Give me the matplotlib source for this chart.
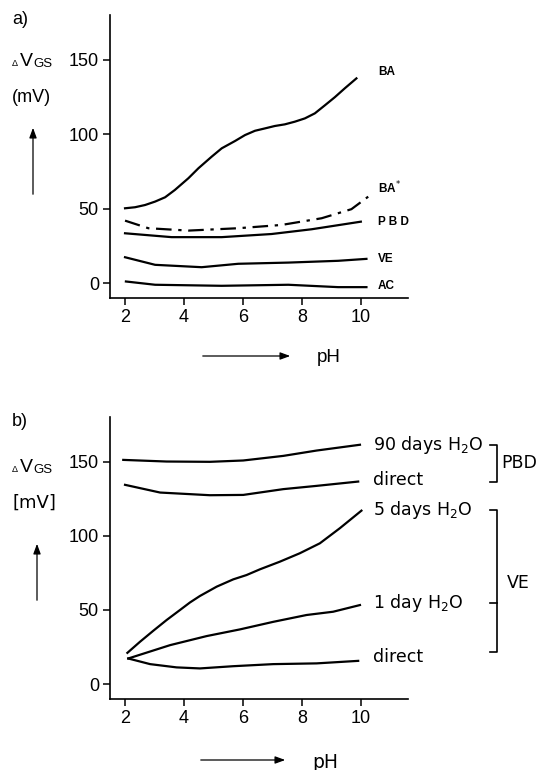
import matplotlib
matplotlib.use("Agg")
import matplotlib.pyplot as plt

# ---- data ----
# panel a)
ph_ba = [2.0, 2.34, 2.68, 3.02, 3.36, 3.69, 4.15, 4.49, 4.94, 5.28, 5.73, 6.07,
         6.41, 6.75, 7.08, 7.42, 7.76, 8.1, 8.44, 8.78, 9.12, 9.46, 9.85]
ba = [50.3, 51.0, 52.5, 54.8, 57.7, 62.6, 70.5, 77.2, 85.0, 90.6, 95.5, 99.5,
      102.4, 104.0, 105.6, 106.7, 108.5, 110.7, 114.1, 119.5, 125.0, 131.0, 137.6]
ph_bas = [2.0, 2.79, 4.15, 5.84, 7.31, 8.67, 9.68, 10.25]
ba_star = [42.0, 36.9, 35.3, 36.9, 39.1, 43.6, 49.7, 58.1]
ph_pbd = [2.0, 3.58, 5.28, 6.97, 8.33, 10.0]
pbd = [33.5, 30.9, 30.9, 33.0, 36.2, 41.3]
ph_ve = [2.0, 3.02, 4.6, 5.84, 7.54, 9.23, 10.19]
ve = [17.4, 12.3, 10.7, 13.0, 13.8, 15.0, 16.3]
ph_ac = [2.03, 3.02, 5.28, 7.54, 9.23, 10.19]
ac = [1.1, -1.1, -1.8, -1.1, -2.7, -2.7]

# panel b)
ph_90 = [1.94, 3.41, 4.88, 6.01, 7.37, 8.5, 9.97]
pbd_90 = [151.1, 150.0, 149.8, 150.7, 153.8, 157.4, 161.3]
ph_pdir = [2.0, 3.19, 4.88, 6.01, 7.37, 8.5, 9.91]
pbd_dir = [134.3, 129.1, 127.3, 127.5, 131.4, 133.6, 136.5]
ph_5 = [2.08, 2.51, 2.96, 3.41, 3.86, 4.2, 4.54, 5.11, 5.67, 6.12, 6.58, 7.25,
        7.93, 8.61, 9.29, 10.02]
ve_5 = [21.1, 28.6, 36.0, 43.2, 49.9, 55.0, 59.4, 65.7, 70.6, 73.5, 77.4, 82.5,
        88.2, 94.9, 105.1, 116.9]
ph_1 = [2.11, 3.53, 4.77, 5.9, 7.03, 8.16, 9.06, 9.97]
ve_1 = [17.3, 26.3, 32.4, 36.9, 42.0, 46.6, 48.8, 53.3]
ph_vdir = [2.11, 2.85, 3.75, 4.54, 5.67, 7.03, 8.5, 9.91]
ve_dir = [17.3, 13.5, 11.3, 10.6, 12.1, 13.5, 14.0, 15.7]

xticks = [2, 4, 6, 8, 10]
yticks = [0, 50, 100, 150]

W, H = 541, 770
fig = plt.figure(figsize=(W / 100, H / 100), dpi=100)
plt.rcParams['font.family'] = ['Liberation Sans', 'DejaVu Sans']


def px(x, y):
    # pixel position (from top left) -> figure fraction
    return x / W, 1 - y / H


def make_axes(top, bottom):
    ax = fig.add_axes([110 / W, 1 - bottom / H, 298 / W, (bottom - top) / H])
    ax.set_xlim(1.49, 11.6)
    ax.set_ylim(-10.2, 180.2)
    for s in ['top', 'right']:
        ax.spines[s].set_visible(False)
    for s in ['left', 'bottom']:
        ax.spines[s].set_linewidth(1.2)
    ax.set_xticks(xticks)
    ax.set_yticks(yticks)
    ax.tick_params(direction='out', length=5, width=1.1, labelsize=13, pad=3)
    return ax


def ylabel(y0, unit, fam):
    fig.text(*px(12, y0 + 2), 'Δ', fontsize=6.5, va='center', ha='left')
    fig.text(*px(20, y0), 'V', fontsize=14, va='center', ha='left')
    fig.text(*px(33, y0 + 3), 'GS', fontsize=9.5, va='center', ha='left')
    fig.text(*px(12, y0 + 36), unit, fontsize=13, va='center', ha='left',
             family=fam)


def arrow(p0, p1):
    fig.add_artist(matplotlib.patches.FancyArrowPatch(
        px(*p0), px(*p1), transform=fig.transFigure,
        arrowstyle='-|>,head_length=6,head_width=2.2', lw=0.9, color='black'))


lw = 1.6

# ---------- a) ----------
ax1 = make_axes(15, 298.3)
ax1.plot(ph_ba, ba, color='black', lw=lw)
ax1.plot(ph_bas, ba_star, color='black', lw=lw, ls=(0, (7, 3, 1.5, 3)))
ax1.plot(ph_pbd, pbd, color='black', lw=lw)
ax1.plot(ph_ve, ve, color='black', lw=lw)
ax1.plot(ph_ac, ac, color='black', lw=lw)

lab_a = dict(fontsize=8.5, fontweight='bold', va='center', ha='left', clip_on=False)
ax1.text(10.58, 141.8, 'BA', **lab_a)
ax1.text(10.58, 64, 'BA$^{*}$', **lab_a)
ax1.text(10.58, 41.3, 'P B D', **lab_a)
ax1.text(10.58, 16.3, 'VE', **lab_a)
ax1.text(10.58, -1.8, 'AC', **lab_a)

fig.text(*px(12, 20), 'a)', fontsize=13, va='center', ha='left')
ylabel(61, '(mV)', ['Liberation Sans'])
arrow((33, 197), (33, 125))
arrow((200, 356), (293, 356))
fig.text(*px(317, 357), 'pH', fontsize=13.5, va='center', ha='left')

# ---------- b) ----------
ax2 = make_axes(416.7, 699.3)
ax2.plot(ph_90, pbd_90, color='black', lw=lw)
ax2.plot(ph_pdir, pbd_dir, color='black', lw=lw)
ax2.plot(ph_5, ve_5, color='black', lw=lw)
ax2.plot(ph_1, ve_1, color='black', lw=lw)
ax2.plot(ph_vdir, ve_dir, color='black', lw=lw)

lab_b = dict(fontsize=12.5, va='center', ha='left', clip_on=False,
             family=['DejaVu Sans'])
ax2.text(10.41, 161.3, '90 days H$_2$O', **lab_b)
ax2.text(10.41, 137.7, 'direct', **lab_b)
ax2.text(10.41, 117.4, '5 days H$_2$O', **lab_b)
ax2.text(10.41, 54.7, '1 day H$_2$O', **lab_b)
ax2.text(10.41, 18.2, 'direct', **lab_b)

# brackets
bk = dict(color='black', lw=1.2, clip_on=False)
ax2.plot([14.37, 14.61, 14.61, 14.37], [161.3, 161.3, 136.5, 136.5], **bk)
ax2.plot([14.37, 14.61, 14.61, 14.37], [117.4, 117.4, 21.8, 21.8], **bk)
ax2.plot([14.37, 14.61], [54.5, 54.5], **bk)
ax2.text(14.77, 148.9, 'PBD', **lab_b)
ax2.text(14.94, 68.2, 'VE', **lab_b)

fig.text(*px(12, 422), 'b)', fontsize=13, va='center', ha='left')
ylabel(467, '[mV]', ['DejaVu Sans'])
arrow((37, 603), (37, 541))
arrow((198, 760), (288, 760))
fig.text(*px(312, 762), 'pH', fontsize=13.5, va='center', ha='left',
         family=['DejaVu Sans'])

fig.savefig('out.png', dpi=100)
